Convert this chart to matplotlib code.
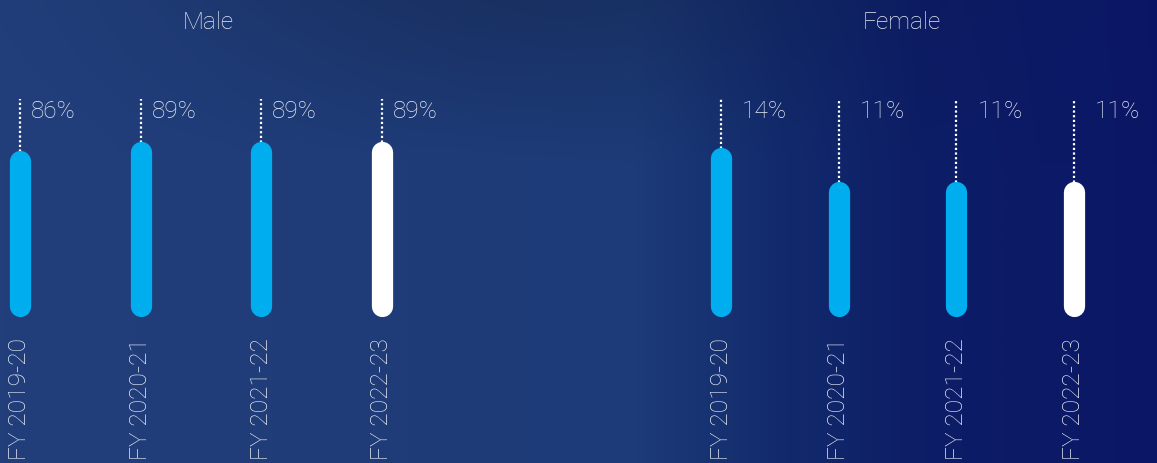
import numpy as np
import matplotlib
matplotlib.use("Agg")
import matplotlib.pyplot as plt
from matplotlib.colors import LinearSegmentedColormap

# ---- data ----
years = ["FY 2019-20", "FY 2020-21", "FY 2021-22", "FY 2022-23"]
male = [86, 89, 89, 89]
female = [14, 11, 11, 11]
groups = ["Male", "Female"]

W, H = 1157, 463
DPI = 100
plt.rcParams['font.family'] = ['Roboto', 'DejaVu Sans']

fig = plt.figure(figsize=(W / DPI, H / DPI), dpi=DPI)

# ---- background gradient ----
bg = fig.add_axes([0, 0, 1, 1])
bg.set_axis_off()
cmap = LinearSegmentedColormap.from_list(
    "bgx",
    [(0.0, "#223f7c"), (0.35, "#1f3c79"), (0.55, "#1d3b78"),
     (0.68, "#122a6c"), (0.80, "#0d1d66"), (1.0, "#0b1766")])
xs = np.linspace(0, 1, 600)
ys = np.linspace(0, 1, 200)
X, Y = np.meshgrid(xs, ys)
img = cmap(X)
# slightly darker band across the top
shade = 1 - 0.18 * np.clip(1 - Y / 0.35, 0, 1) * np.exp(-((X - 0.45) / 0.3) ** 2)
img[..., :3] *= shade[..., None]
bg.imshow(img, aspect="auto", extent=[0, 1, 1, 0])
bg.set_xlim(0, 1)
bg.set_ylim(1, 0)

TXT = "#e6ebf3"
BAR = "#00adef"
FS = 17.6


def px_axes(x0, x1, ytop, ybot):
    return fig.add_axes([x0 / W, 1 - ybot / H, (x1 - x0) / W, (ybot - ytop) / H])


def panel(vals, xc0, xc1, ylim, label_dx):
    step = (xc1 - xc0) / 3
    ax = px_axes(xc0 - step / 2, xc1 + step / 2, 99, 305.5)
    ax.set_axis_off()
    ax.set_xlim(-0.5, 3.5)
    ax.set_ylim(*ylim)
    xs_ = np.arange(len(vals))
    colors = [BAR] * (len(vals) - 1) + ["#ffffff"]
    # dotted leaders
    ax.vlines(xs_, vals, ylim[1], colors="white", linewidth=1.6,
              linestyles=(0, (1.0, 1.1)), zorder=2, clip_on=False)
    # rounded bars
    for x, v, c in zip(xs_, vals, colors):
        ax.vlines(x, ylim[0], v, colors=c, linewidth=15.3, capstyle="round",
                  zorder=3, clip_on=False)
        ax.annotate(f"{v}%", xy=(x, ylim[1]), xytext=(label_dx, -19.3),
                    textcoords="offset pixels", ha="left", va="baseline",
                    color=TXT, fontsize=FS, fontweight="light")
        ax.annotate(years[x], xy=(x, ylim[0]), xytext=(0, -(338 - 305.5)),
                    textcoords="offset pixels", ha="center", va="top",
                    rotation=90, color=TXT, fontsize=FS, fontweight="light",
                    annotation_clip=False)
    return ax


panel(male, 20, 382, (38.0, 106.8), 11)
panel(female, 721, 1074, (1.0, 19.25), 21)

fig.text(208 / W, 1 - 29 / H, groups[0], ha="center", va="baseline",
         color=TXT, fontsize=FS, fontweight="light")
fig.text(902 / W, 1 - 29 / H, groups[1], ha="center", va="baseline",
         color=TXT, fontsize=FS, fontweight="light")

fig.savefig("out.png", dpi=DPI)
